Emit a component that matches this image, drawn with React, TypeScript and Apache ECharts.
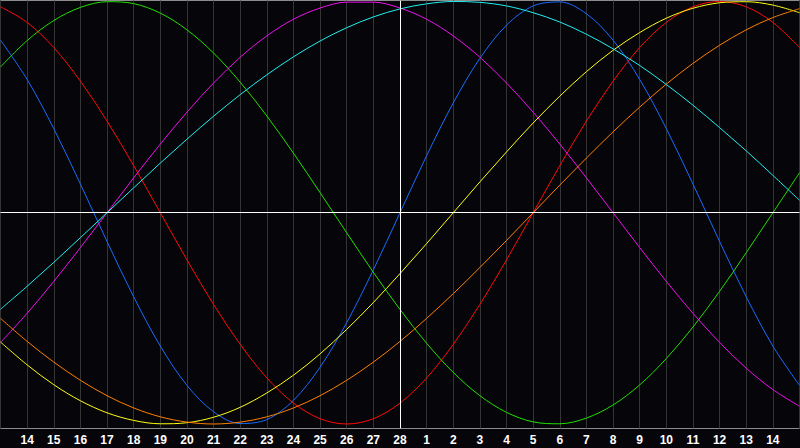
import React, { useEffect, useRef } from "react";
import * as echarts from "echarts";

// Days shown (first and last are the plot edges, unlabeled)
const DAYS = [
  "02-13", "02-14", "02-15", "02-16", "02-17", "02-18", "02-19", "02-20",
  "02-21", "02-22", "02-23", "02-24", "02-25", "02-26", "02-27", "02-28",
  "03-01", "03-02", "03-03", "03-04", "03-05", "03-06", "03-07", "03-08",
  "03-09", "03-10", "03-11", "03-12", "03-13", "03-14", "03-15",
];
const TODAY = "02-28";

// Cycle values, one per day
const BLUE = [0.817, 0.631, 0.398, 0.136, -0.136, -0.398, -0.631, -0.817, -0.942, -0.998, -0.979, -0.888, -0.731, -0.520, -0.270, 0, 0.270, 0.520, 0.731, 0.888, 0.979, 0.998, 0.942, 0.817, 0.631, 0.398, 0.136, -0.136, -0.398, -0.631, -0.817];
const RED = [0.975, 0.901, 0.782, 0.623, 0.434, 0.223, 0, -0.223, -0.434, -0.623, -0.782, -0.901, -0.975, -1.000, -0.975, -0.901, -0.782, -0.623, -0.434, -0.223, 0, 0.223, 0.434, 0.623, 0.782, 0.901, 0.975, 1.000, 0.975, 0.901, 0.782];
const GREEN = [0.690, 0.815, 0.910, 0.972, 0.999, 0.990, 0.945, 0.866, 0.756, 0.618, 0.458, 0.282, 0.095, -0.095, -0.282, -0.458, -0.618, -0.756, -0.866, -0.945, -0.990, -0.999, -0.972, -0.910, -0.815, -0.690, -0.541, -0.372, -0.189, 0, 0.189];
const MAGENTA = [-0.614, -0.476, -0.325, -0.165, 0, 0.165, 0.325, 0.476, 0.614, 0.736, 0.837, 0.916, 0.969, 0.997, 0.997, 0.969, 0.916, 0.837, 0.736, 0.614, 0.476, 0.325, 0.165, 0, -0.165, -0.325, -0.476, -0.614, -0.736, -0.837, -0.916];
const YELLOW = [-0.612, -0.720, -0.814, -0.890, -0.947, -0.983, -0.999, -0.994, -0.968, -0.921, -0.853, -0.769, -0.668, -0.552, -0.425, -0.288, -0.146, 0, 0.146, 0.288, 0.425, 0.552, 0.668, 0.769, 0.853, 0.921, 0.968, 0.994, 0.999, 0.983, 0.947];
const ORANGE = [-0.500, -0.609, -0.707, -0.793, -0.866, -0.924, -0.966, -0.991, -1.000, -0.991, -0.966, -0.924, -0.866, -0.793, -0.707, -0.609, -0.500, -0.383, -0.259, -0.131, 0, 0.131, 0.259, 0.383, 0.500, 0.609, 0.707, 0.793, 0.866, 0.924, 0.966];
const CYAN = [-0.457, -0.348, -0.235, -0.118, 0, 0.118, 0.235, 0.348, 0.457, 0.559, 0.653, 0.738, 0.813, 0.876, 0.927, 0.965, 0.989, 1.000, 0.996, 0.979, 0.947, 0.903, 0.845, 0.776, 0.697, 0.607, 0.509, 0.403, 0.293, 0.177, 0.059];

const CURVES: { name: string; data: number[]; color: string }[] = [
  { name: "blue", data: BLUE, color: "#1a6cff" },
  { name: "red", data: RED, color: "#ff0a0a" },
  { name: "green", data: GREEN, color: "#22e000" },
  { name: "magenta", data: MAGENTA, color: "#f010f0" },
  { name: "yellow", data: YELLOW, color: "#ffff10" },
  { name: "orange", data: ORANGE, color: "#ff8000" },
  { name: "cyan", data: CYAN, color: "#20f0f0" },
];

const BG = "#06050a";

export default function App() {
  const ref = useRef<HTMLDivElement>(null);

  useEffect(() => {
    document.body.style.margin = "0";
    document.body.style.background = BG;
    const chart = echarts.init(ref.current as HTMLDivElement, null, { renderer: "svg" });
    chart.setOption({
      animation: false,
      backgroundColor: BG,
      grid: {
        left: 0.5,
        right: 0.5,
        top: 0.5,
        height: 428,
        containLabel: false,
        outerBoundsMode: "none",
        show: true,
        backgroundColor: "transparent",
        borderColor: "#8c8c8c",
        borderWidth: 1,
      },
      xAxis: {
        type: "category",
        data: DAYS,
        boundaryGap: false,
        axisLine: { show: false },
        axisTick: { show: false },
        axisLabel: {
          interval: (index: number) => index > 0 && index < DAYS.length - 1,
          color: "#ffffff",
          fontWeight: "bold",
          fontSize: 12,
          fontFamily: "Liberation Sans, Arial, sans-serif",
          margin: 5,
          formatter: (v: string) => String(Number(v.slice(3))),
        },
        splitLine: { show: true, interval: 0, lineStyle: { color: "#353535", width: 1 } },
      },
      yAxis: {
        type: "value",
        min: -1.0213,
        max: 1.0047,
        show: false,
        splitLine: { show: false },
      },
      series: [
        ...CURVES.map((c) => ({
          name: c.name,
          type: "line",
          data: c.data,
          smooth: 0.333,
          showSymbol: false,
          symbol: "none",
          silent: true,
          z: 2,
          lineStyle: { color: c.color, width: 1 },
        })),
        {
          name: "ref",
          type: "line",
          data: [],
          z: 5,
          silent: true,
          markLine: {
            silent: true,
            symbol: ["none", "none"],
            label: { show: false },
            emphasis: { disabled: true },
            lineStyle: { color: "#ffffff", width: 1, type: "solid" },
            data: [{ yAxis: 0 }, { xAxis: TODAY }],
          },
        },
      ],
    });
    return () => chart.dispose();
  }, []);

  return (
    <div
      ref={ref}
      style={{ position: "fixed", left: 0, top: 0, width: 800, height: 448, background: BG }}
    />
  );
}
